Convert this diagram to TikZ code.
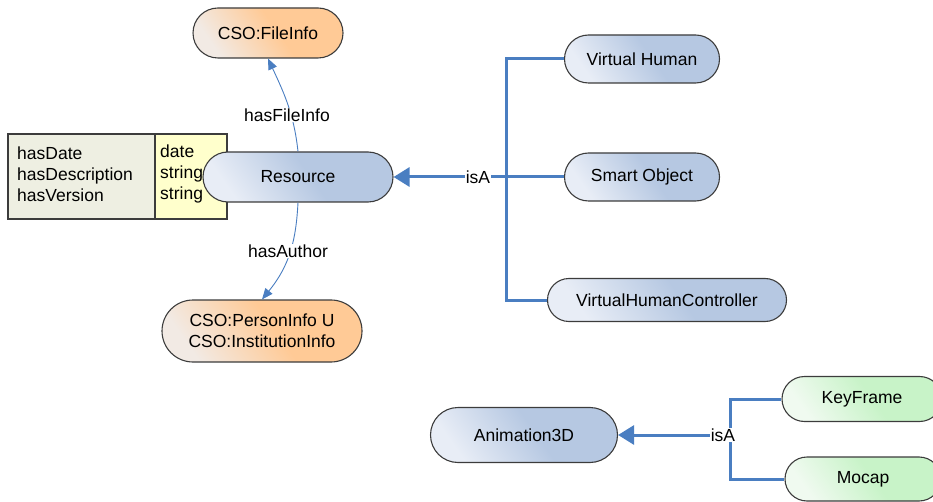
\documentclass[tikz,border=0pt]{standalone}
\usepackage{fontspec}
\setmainfont{Liberation Sans}
\usetikzlibrary{arrows.meta}
\definecolor{linkblue}{RGB}{74,126,193}
\definecolor{edgegray}{RGB}{60,60,60}
\definecolor{bluelight}{RGB}{232,237,246}
\definecolor{bluedark}{RGB}{182,200,226}
\definecolor{orangelight}{RGB}{242,234,228}
\definecolor{orangedark}{RGB}{255,202,150}
\definecolor{greenlight}{RGB}{240,250,240}
\definecolor{greendark}{RGB}{200,243,200}
\definecolor{tablegray}{RGB}{238,239,226}
\definecolor{tableyellow}{RGB}{255,255,204}
% light corner fading quickly into the base colour
\pgfdeclarehorizontalshading{blueshade}{100bp}{color(0bp)=(bluelight); color(26bp)=(bluelight); color(54bp)=(bluedark); color(100bp)=(bluedark)}
\pgfdeclarehorizontalshading{orangeshade}{100bp}{color(0bp)=(orangelight); color(26bp)=(orangelight); color(54bp)=(orangedark); color(100bp)=(orangedark)}
\pgfdeclarehorizontalshading{greenshade}{100bp}{color(0bp)=(greenlight); color(26bp)=(greenlight); color(54bp)=(greendark); color(100bp)=(greendark)}
\tikzset{
  txt/.style={font=\fontsize{17.5}{21}\selectfont},
  pill/.style={txt, draw=edgegray, line width=1.1pt, align=center, inner sep=0pt},
  bluepill/.style={pill, shading=blueshade, shading angle=35},
  orangepill/.style={pill, shading=orangeshade, shading angle=35},
  greenpill/.style={pill, shading=greenshade, shading angle=35},
  thinlink/.style={draw=linkblue, line width=0.9pt, -{Triangle[length=11pt,width=9pt]}},
  treelink/.style={draw=linkblue, line width=3pt},
  isalink/.style={treelink, -{Triangle[length=16pt,width=19pt]}},
  edgelabel/.style={txt, fill=white, inner sep=1pt},
}
\begin{document}
\begin{tikzpicture}[x=1pt, y=-1pt]
\useasboundingbox (0,0) rectangle (933,502);

% attribute table of Resource
\fill[tablegray] (8,134) rectangle (155,219);
\fill[tableyellow] (155,134) rectangle (227,219);
\draw[edgegray, line width=1.1pt] (8,134) rectangle (227,219) (155,134) -- (155,219);
\node[txt, anchor=west, align=left, inner sep=0pt] (attrs) at (17,174)
  {hasDate\\hasDescription\\hasVersion};
\node[txt, anchor=west, align=left, inner sep=0pt] (types) at (160,174)
  {date\\string\\string};

% classes
\node[bluepill, minimum width=190pt, minimum height=50pt, rounded corners=25pt] (res) at (298,177) {Resource};
\node[orangepill, minimum width=150pt, minimum height=50pt, rounded corners=25pt] (file) at (268,33) {CSO:FileInfo};
\node[orangepill, minimum width=200pt, minimum height=62pt, rounded corners=31pt] (person) at (262,331)
  {CSO:PersonInfo U\\CSO:InstitutionInfo};
\node[bluepill, minimum width=155pt, minimum height=48pt, rounded corners=24pt] (vh) at (642,59) {Virtual Human};
\node[bluepill, minimum width=155pt, minimum height=48pt, rounded corners=24pt] (so) at (642,177) {Smart Object};
\node[bluepill, minimum width=239pt, minimum height=43pt, rounded corners=21.5pt] (vhc) at (667,300) {VirtualHumanController};
\node[bluepill, minimum width=187pt, minimum height=55pt, rounded corners=27.5pt] (anim) at (524,435) {Animation3D};
\node[greenpill, minimum width=160pt, minimum height=45pt, rounded corners=22.5pt] (key) at (862,399) {KeyFrame};
\node[greenpill, minimum width=156pt, minimum height=44pt, rounded corners=22pt] (mocap) at (863,479) {Mocap};

% properties of Resource
\draw[thinlink] (res.north) .. controls (294,115) and (285,95) .. (file.south);
\node[edgelabel] (lfile) at (287,115) {hasFileInfo};
\draw[thinlink] (res.south) .. controls (296,240) and (290,265) .. (person.north);
\node[edgelabel] (lauthor) at (288,251) {hasAuthor};

% subclasses of Resource
\coordinate (j1) at (506,177);
\draw[treelink] (vh.west) -| (j1) |- (vhc.west);
\draw[treelink] (so.west) -- (j1);
\draw[isalink] (j1) -- (res.east);
\node[edgelabel, inner sep=0.5pt] (lisa1) at (478,177) {isA};

% subclasses of Animation3D
\coordinate (j2) at (730,435);
\draw[treelink] (key.west) -| (j2) |- (mocap.west);
\draw[isalink] (j2) -- (anim.east);
\node[edgelabel] (lisa2) at (723,435) {isA};
\end{tikzpicture}
\end{document}
